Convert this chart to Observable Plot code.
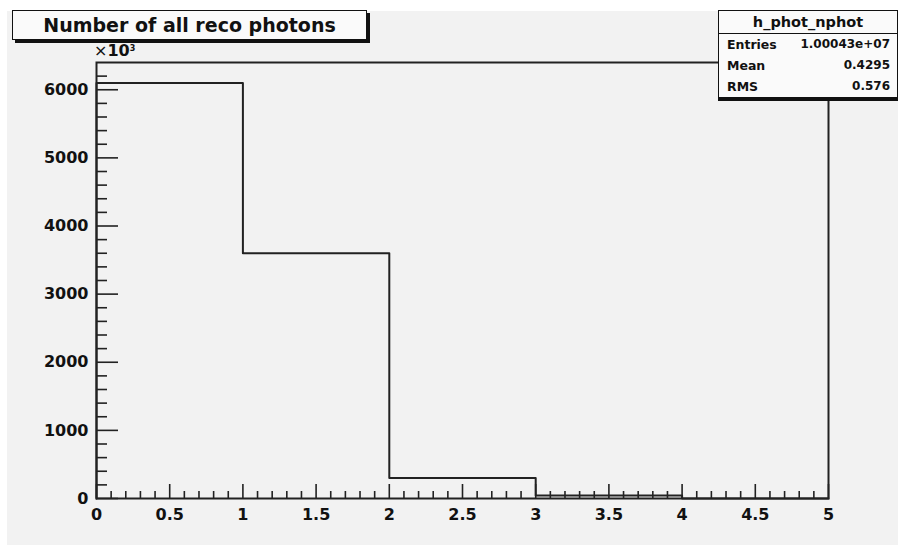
<!DOCTYPE html>
<html>
<head>
<meta charset="utf-8">
<script src="https://cdn.jsdelivr.net/npm/d3@7"></script>
<script src="https://cdn.jsdelivr.net/npm/@observablehq/plot@0.6"></script>
<style>
html,body{margin:0;padding:0;background:#fff;}
#wrap{position:relative;width:898px;height:545px;overflow:hidden;font-family:"DejaVu Sans",sans-serif;color:#111;}
#bg{position:absolute;left:7px;top:11px;right:0;bottom:0;background:#f2f2f2;}
#chart{position:absolute;left:0;top:0;}
#title{position:absolute;left:12px;top:10px;width:353px;height:28px;border:1px solid #111;background:#fafafa;box-shadow:3px 3px 0 #111;font-weight:bold;font-size:19px;text-align:center;line-height:28px;}
#stats{position:absolute;left:718px;top:10px;width:178px;height:86px;border:1px solid #111;background:#fafafa;box-shadow:0 3px 0 #111;font-weight:bold;}
#stats .hdr{height:22px;border-bottom:1px solid #111;text-align:center;font-size:14.5px;line-height:22px;}
#stats .row{position:relative;height:21px;font-size:12.5px;line-height:21px;}
#stats .row .k{position:absolute;left:8px;}
#stats .row .v{position:absolute;right:7px;font-size:12px;}
#mult{position:absolute;left:94px;top:43px;font-size:16px;font-weight:bold;line-height:16px;}
#mult .x{font-weight:normal;}
#mult sup{font-size:8px;vertical-align:top;position:relative;top:-2px;}
</style>
</head>
<body>
<div id="wrap">
  <div id="bg"></div>
  <div id="chart"></div>
  <div id="mult"><span class="x">×</span>10<sup>3</sup></div>
  <div id="title">Number of all reco photons</div>
  <div id="stats">
    <div class="hdr">h_phot_nphot</div>
    <div class="row"><span class="k">Entries</span><span class="v">1.00043e+07</span></div>
    <div class="row"><span class="k">Mean</span><span class="v">0.4295</span></div>
    <div class="row"><span class="k">RMS</span><span class="v">0.576</span></div>
  </div>
</div>
<script>
// Histogram bins (number of reco photons), counts in units of 10^3
const binEdges = [0, 1, 2, 3, 4, 5];
const binCounts = [6098, 3600, 300, 45, 1];

// Axis ticks
const xMajorTicks = [0, 0.5, 1, 1.5, 2, 2.5, 3, 3.5, 4, 4.5, 5];
const yMajorTicks = [0, 1000, 2000, 3000, 4000, 5000, 6000];
const xMinorTicks = d3.range(0, 51).map(i => i / 10).filter(v => !xMajorTicks.some(m => Math.abs(m - v) < 1e-9));
const yMinorTicks = d3.range(0, 6400, 200).filter(v => !yMajorTicks.includes(v));

// Step outline points
const steps = [{x: binEdges[0], y: 0}];
binCounts.forEach((c, i) => steps.push({x: binEdges[i], y: c}));
steps.push({x: binEdges[binEdges.length - 1], y: binCounts[binCounts.length - 1]});
steps.push({x: binEdges[binEdges.length - 1], y: 0});

const W = 898, H = 545, mL = 96, mR = 70, mT = 62, mB = 47;
const pw = W - mL - mR, ph = H - mT - mB;
const ink = "#222";

const plot = Plot.plot({
  width: W, height: H,
  marginLeft: mL, marginRight: mR, marginTop: mT, marginBottom: mB,
  style: {background: "transparent", fontFamily: "DejaVu Sans, sans-serif", fontSize: "16px", fontWeight: "bold", color: "#111"},
  x: {domain: [0, 5]},
  y: {domain: [0, 6400]},
  marks: [
    Plot.tickY(yMajorTicks, {y: d => d, stroke: ink, strokeWidth: 1.6, insetRight: pw - 22}),
    Plot.tickY(yMinorTicks, {y: d => d, stroke: ink, strokeWidth: 1.6, insetRight: pw - 11}),
    Plot.tickX(xMajorTicks, {x: d => d, stroke: ink, strokeWidth: 1.6, insetTop: ph - 14}),
    Plot.tickX(xMinorTicks, {x: d => d, stroke: ink, strokeWidth: 1.6, insetTop: ph - 7}),
    Plot.line(steps, {x: "x", y: "y", curve: "step-after", stroke: ink, strokeWidth: 2}),
    Plot.frame({stroke: ink, strokeWidth: 2}),
    Plot.axisX({ticks: xMajorTicks, tickSize: 0, tickPadding: 10, tickFormat: d => String(d), label: null}),
    Plot.axisY({ticks: yMajorTicks, tickSize: 0, tickPadding: 8, tickFormat: d3.format("d"), label: null})
  ]
});
document.getElementById("chart").appendChild(plot);
</script>
</body>
</html>
